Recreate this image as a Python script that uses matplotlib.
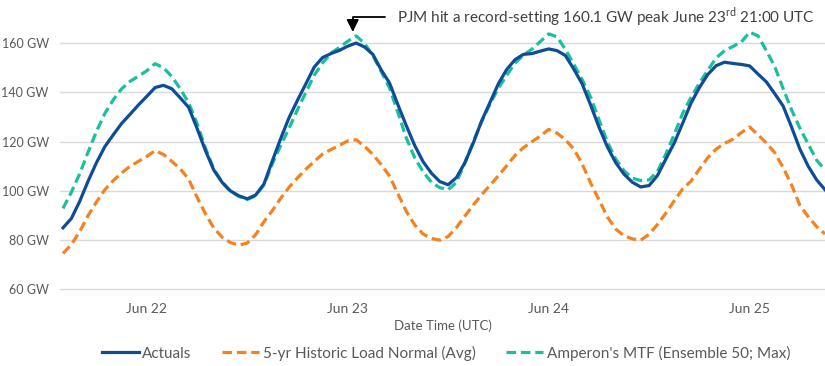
import numpy as np
import matplotlib
matplotlib.use("Agg")
import matplotlib.pyplot as plt

plt.rcParams['font.family'] = ['Lato', 'DejaVu Sans']

# hourly load, GW
actuals = [85.0, 88.8, 95.8, 104.0, 111.5, 118.0, 122.8, 127.4, 131.1, 134.9,
           138.4, 142.0, 142.9, 141.5, 137.8, 134.0, 125.5, 116.5, 108.5, 103.5,
           100.0, 98.0, 96.8, 98.3, 102.8, 112.2, 121.3, 129.8, 136.8, 143.5,
           150.3, 154.2, 155.8, 157.1, 158.8, 160.1, 158.5, 155.5, 149.2, 143.8,
           135.0, 126.5, 118.5, 111.9, 107.2, 103.8, 102.5, 105.5, 111.5, 119.5,
           128.5, 136.0, 143.6, 149.4, 153.4, 155.5, 155.8, 156.8, 157.7, 157.0,
           155.0, 149.5, 143.5, 135.0, 126.0, 118.0, 111.5, 106.8, 103.5, 101.6,
           102.2, 106.3, 113.0, 119.5, 127.5, 135.7, 142.0, 147.3, 150.9, 152.3,
           151.8, 151.4, 150.8, 147.5, 144.3, 139.5, 134.5, 126.0, 117.0, 110.0,
           104.5, 100.5]

normal = [74.6, 78.2, 83.5, 90.0, 95.5, 100.5, 104.2, 107.3, 110.0, 112.0,
          114.0, 116.4, 114.8, 112.0, 109.0, 104.8, 97.5, 90.8, 85.0, 81.2,
          79.0, 78.0, 78.8, 82.2, 87.5, 92.0, 97.0, 101.5, 105.3, 108.8,
          112.0, 115.0, 116.8, 118.5, 120.3, 120.8, 118.2, 114.8, 110.7, 106.0,
          98.8, 91.7, 86.2, 82.5, 80.7, 80.0, 81.5, 85.2, 89.8, 94.3,
          98.5, 102.3, 106.2, 110.3, 114.5, 117.6, 120.0, 122.3, 125.0, 123.5,
          120.8, 117.0, 111.0, 103.3, 96.5, 89.5, 84.5, 81.8, 80.5, 80.0,
          82.4, 86.4, 91.0, 96.0, 100.8, 104.0, 108.8, 113.5, 117.0, 119.3,
          121.0, 123.7, 126.0, 122.8, 119.5, 115.5, 109.5, 102.5, 94.2, 89.5,
          85.5, 82.5]

mtf_max = [92.9, 99.5, 107.0, 115.8, 124.2, 131.5, 137.0, 141.5, 144.5, 146.6,
           148.8, 151.7, 150.0, 146.5, 141.5, 135.8, 127.5, 117.5, 109.0, 103.5,
           99.8, 97.8, 96.5, 98.0, 102.5, 111.0, 118.5, 125.5, 133.0, 140.0,
           147.0, 152.0, 156.0, 158.3, 160.8, 163.0, 160.0, 155.0, 148.5, 141.8,
           131.8, 121.5, 113.5, 107.8, 103.5, 101.3, 100.5, 103.5, 111.5, 120.0,
           128.2, 135.3, 141.8, 147.0, 152.0, 155.2, 157.6, 160.7, 163.8, 162.6,
           157.5, 151.5, 145.2, 138.2, 129.0, 120.0, 113.0, 108.2, 105.2, 104.2,
           104.5, 108.0, 115.0, 123.0, 131.5, 138.0, 143.8, 149.0, 154.0, 157.0,
           158.7, 160.5, 164.5, 163.0, 157.0, 150.5, 141.6, 133.0, 125.5, 119.0,
           112.5, 108.5]

day_labels = ['Jun 22', 'Jun 23', 'Jun 24', 'Jun 25']
first_tick_hour = 10

hours = np.arange(len(actuals))

c_blue = '#0f4c96'
c_orange = '#f5821f'
c_teal = '#1abf9f'
c_text = '#595959'

fig = plt.figure(figsize=(8.25, 3.66), dpi=100)
ax = fig.add_axes([0.0727, 0.1825, 0.9273, 0.780])

ax.plot(hours, actuals, color=c_blue, lw=2.3, label='Actuals', zorder=3)
ax.plot(hours, normal, color=c_orange, lw=2.3, dashes=(3, 1.5),
        label='5-yr Historic Load Normal (Avg)', zorder=2)
ax.plot(hours, mtf_max, color=c_teal, lw=2.3, dashes=(3, 1.5),
        label="Amperon's MTF (Ensemble 50; Max)", zorder=2)

ax.set_xlim(-0.36, len(actuals) - 1)
ax.set_ylim(56, 172)

ax.set_yticks(np.arange(60, 161, 20))
ax.set_yticklabels([f'{v} GW' for v in range(60, 161, 20)])
ax.set_xticks(first_tick_hour + 24 * np.arange(len(day_labels)))
ax.set_xticklabels(day_labels)
ax.tick_params(axis='both', length=0, colors=c_text)
ax.tick_params(axis='y', pad=8, labelsize=9)
ax.tick_params(axis='x', pad=3, labelsize=10)
ax.grid(axis='y', color='#d9d9d9', lw=1)
ax.set_axisbelow(True)
for s in ax.spines.values():
    s.set_visible(False)

ax.set_xlabel('Date Time (UTC)', fontsize=9.5, color=c_text, labelpad=3)

# record peak callout
peak_i = int(np.argmax(actuals))
peak_v = actuals[peak_i]
ax.annotate(r'PJM hit a record-setting 160.1 GW peak June 23$^{\mathregular{rd}}$ 21:00 UTC',
            xy=(peak_i - 0.4, peak_v + 4.5), xytext=(peak_i + 4.9, peak_v + 10.6),
            fontsize=11, color='#404040', ha='left', va='center',
            arrowprops=dict(arrowstyle='-|>,head_width=0.3,head_length=0.6',
                            color='black', lw=1.3, mutation_scale=12,
                            connectionstyle='angle,angleA=180,angleB=90,rad=0',
                            relpos=(0, 0.5), shrinkA=7, shrinkB=0))

fig.legend(loc='center', bbox_to_anchor=(446 / 825, 1 - 353 / 366), ncol=3,
           frameon=False, fontsize=11, handlelength=2.4, handletextpad=0.25,
           columnspacing=2.0, labelcolor=c_text)

fig.savefig('out.png', dpi=100)
